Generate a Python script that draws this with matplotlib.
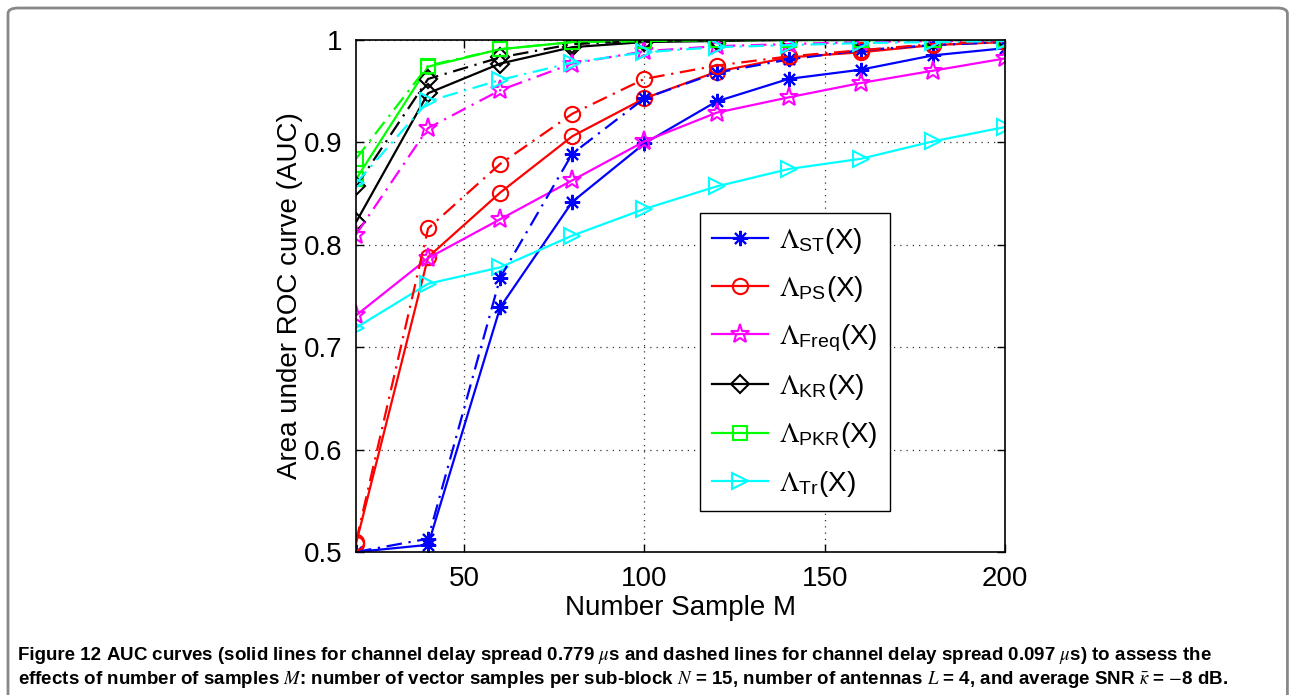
import numpy as np
import matplotlib
matplotlib.use('Agg')
import matplotlib.pyplot as plt
from matplotlib.patches import FancyBboxPatch

plt.rcParams['font.family'] = ['Liberation Sans', 'DejaVu Sans']
plt.rcParams['mathtext.fontset'] = 'stix'

M = [20, 40, 60, 80, 100, 120, 140, 160, 180, 200]

# solid: delay spread 0.779 us, dashed: 0.097 us
st_solid = [0.500, 0.507, 0.739, 0.842, 0.899, 0.940, 0.962, 0.971, 0.985, 0.992]
st_dash = [0.500, 0.513, 0.768, 0.889, 0.943, 0.968, 0.981, 0.990, 0.995, 0.998]
ps_solid = [0.508, 0.788, 0.851, 0.906, 0.943, 0.969, 0.983, 0.988, 0.995, 0.998]
ps_dash = [0.510, 0.816, 0.879, 0.928, 0.962, 0.975, 0.984, 0.990, 0.996, 0.999]
freq_solid = [0.731, 0.787, 0.825, 0.863, 0.901, 0.929, 0.944, 0.958, 0.970, 0.982]
freq_dash = [0.810, 0.914, 0.951, 0.977, 0.989, 0.994, 0.996, 0.998, 0.999, 0.999]
kr_solid = [0.822, 0.948, 0.977, 0.993, 0.998, 0.999, 1.000, 1.000, 1.000, 1.000]
kr_dash = [0.857, 0.962, 0.983, 0.996, 0.999, 1.000, 1.000, 1.000, 1.000, 1.000]
pkr_solid = [0.864, 0.974, 0.991, 0.998, 0.999, 1.000, 1.000, 1.000, 1.000, 1.000]
pkr_dash = [0.884, 0.975, 0.991, 0.998, 0.999, 1.000, 1.000, 1.000, 1.000, 1.000]
tr_solid = [0.719, 0.762, 0.778, 0.809, 0.835, 0.857, 0.874, 0.884, 0.901, 0.915]
tr_dash = [0.860, 0.940, 0.961, 0.978, 0.988, 0.993, 0.995, 0.997, 0.998, 0.999]

names = ['ST', 'PS', 'Freq', 'KR', 'PKR', 'Tr']
colors = ['#0000ff', '#ff0000', '#ff00ff', '#000000', '#00ff00', '#00ffff']
markers = [(8, 2, 0), 'o', '*', 'D', 's', '>']
msizes = [11, 11, 14, 9, 10, 12]
solid = [st_solid, ps_solid, freq_solid, kr_solid, pkr_solid, tr_solid]
dashed = [st_dash, ps_dash, freq_dash, kr_dash, pkr_dash, tr_dash]

fig = plt.figure(figsize=(12.92, 6.95), dpi=100)

# caption frame
frame = FancyBboxPatch((8 / 1292, -0.1), (1290 - 8) / 1292 - 0.002, 1.1 - 8 / 695,
                       boxstyle='round,pad=0,rounding_size=0.008',
                       transform=fig.transFigure, fill=False,
                       edgecolor='#888888', linewidth=2)
fig.patches.append(frame)

ax = fig.add_axes([356 / 1292, 143 / 695, 649 / 1292, 512 / 695])

for i in range(len(names)):
    ax.plot(M, solid[i], '-', color=colors[i], marker=markers[i],
            markersize=msizes[i], markerfacecolor='none', markeredgewidth=1.5,
            linewidth=1.6, label=r'$\Lambda_{\mathregular{' + names[i] + r'}}$(X)')
for i in range(len(names)):
    ax.plot(M, dashed[i], color=colors[i], marker=markers[i],
            linestyle=(0, (7, 3, 1, 3)),
            markersize=msizes[i], markerfacecolor='none', markeredgewidth=1.5,
            linewidth=1.6)

ax.set_xlim(20, 200)
ax.set_ylim(0.5, 1.0)
ax.set_xticks([50, 100, 150, 200])
ax.set_yticks([0.5, 0.6, 0.7, 0.8, 0.9, 1.0])
ax.set_yticklabels(['0.5', '0.6', '0.7', '0.8', '0.9', '1'])
ax.grid(True, linestyle=(0, (1, 4)), color='#333333', linewidth=0.9)
ax.tick_params(direction='in', top=True, right=True, labelsize=20, length=6,
               width=1, pad=10)
for s in ax.spines.values():
    s.set_linewidth(1.2)
ax.set_xlabel('Number Sample M', fontsize=20, labelpad=2)
ax.set_ylabel('Area under ROC curve (AUC)', fontsize=20, labelpad=0)

leg = ax.legend(loc='upper left', bbox_to_anchor=(0.530, 0.662),
                borderaxespad=0, fontsize=20, numpoints=1, fancybox=False,
                edgecolor='black', framealpha=1, handlelength=2.0,
                labelspacing=0.66, borderpad=0.45, handletextpad=0.4)
leg.get_frame().set_linewidth(1.0)

cap_font = ['Liberation Sans Narrow', 'Liberation Sans', 'DejaVu Sans']
line1 = (r'AUC curves (solid lines for channel delay spread 0.779 $\mu$s and dashed lines '
         r'for channel delay spread 0.097 $\mu$s) to assess the')
line2 = (r'effects of number of samples $M$: number of vector samples per sub-block $N$ = 15, '
         r'number of antennas $L$ = 4, and average SNR $\bar{\kappa}$ = $-$8 dB.')
t = fig.text(18 / 1292, 1 - 656 / 695, 'Figure 12', fontsize=13.5, fontweight='bold',
             family=cap_font, va='center', ha='left')
fig.canvas.draw()
bb = t.get_window_extent()
fig.text((bb.x1 + 5) / 1292, 1 - 656 / 695, line1, fontsize=13.5, fontweight='bold',
         family=cap_font, va='center', ha='left')
fig.text(18 / 1292, 1 - 679 / 695, line2, fontsize=13.5, fontweight='bold',
         family=cap_font, va='center', ha='left')

fig.savefig('out.png', dpi=100)
